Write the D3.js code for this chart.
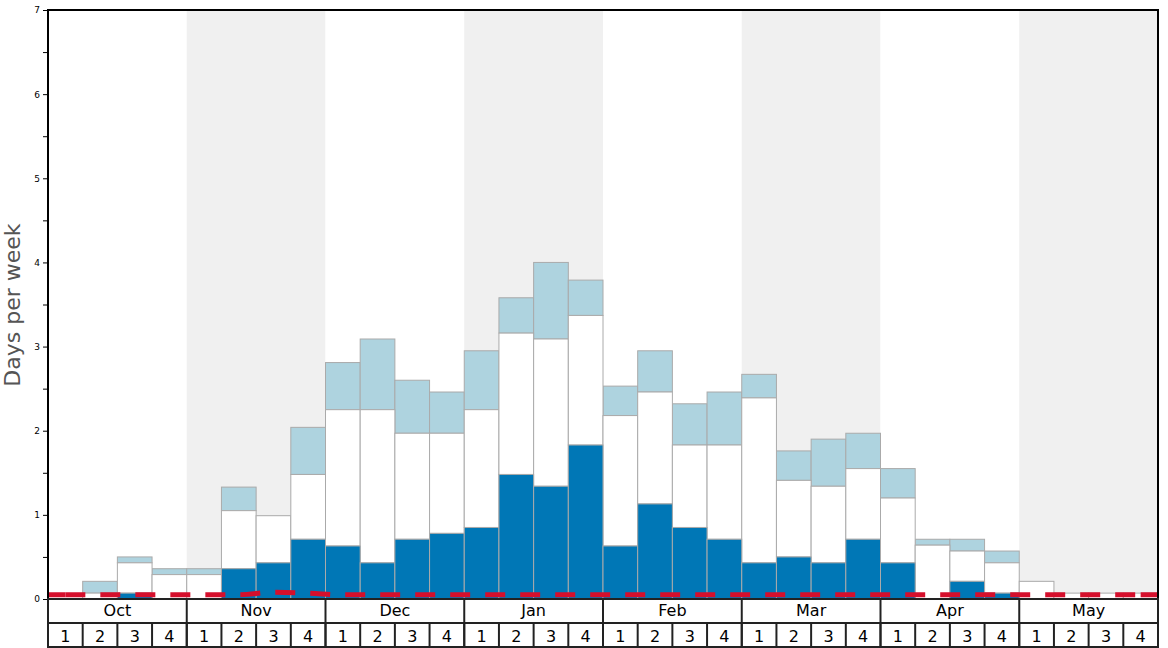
<!DOCTYPE html><html><head><meta charset="utf-8"><script src="https://cdn.jsdelivr.net/npm/d3@7"></script>
<style>body{margin:0;background:#fff}text{font-family:"DejaVu Sans",sans-serif}</style></head><body><svg id="c" width="1168" height="648"></svg>
<script>
const months=["Oct","Nov","Dec","Jan","Feb","Mar","Apr","May"];
const weekLabels=["1","2","3","4"];
const darkTop=[0,0,0.07,0,0,0.36,0.43,0.71,0.63,0.43,0.71,0.78,0.85,1.48,1.34,1.83,0.63,1.13,0.85,0.71,0.43,0.5,0.43,0.71,0.43,0,0.21,0.07,0,0,0,0];
const whiteTop=[0,0.07,0.43,0.29,0.29,1.05,0.99,1.48,2.25,2.25,1.97,1.97,2.25,3.16,3.09,3.37,2.18,2.46,1.83,1.83,2.39,1.41,1.34,1.55,1.2,0.64,0.57,0.43,0.21,0.07,0.07,0.07];
const lightTop=[0,0.21,0.5,0.36,0.36,1.33,0.99,2.04,2.81,3.09,2.6,2.46,2.95,3.58,4.0,3.79,2.53,2.95,2.32,2.46,2.67,1.76,1.9,1.97,1.55,0.71,0.71,0.57,0.21,0.07,0.07,0.07];
const redLine=[0.05,0.05,0.05,0.05,0.05,0.05,0.08,0.07,0.05,0.05,0.05,0.05,0.05,0.05,0.05,0.05,0.05,0.05,0.05,0.05,0.05,0.05,0.05,0.05,0.05,0.05,0.05,0.05,0.05,0.05,0.05,0.05];
const yTicks=[0,1,2,3,4,5,6,7];
const svg=d3.select("#c");
const L=48,R=1158,T=10,B=599;
const x=d3.scaleLinear().domain([0,32]).range([L,R]);
const y=d3.scaleLinear().domain([0,7]).range([B,T]);
const idx=d3.range(32);
svg.selectAll(".sh").data(months).enter().append("rect").attr("x",(d,i)=>x(i*4)).attr("width",x(4)-x(0)).attr("y",T).attr("height",B-T).attr("fill",(d,i)=>i%2?"#f0f0f0":"#fff");
function layer(top,bot,fill){svg.append("g").selectAll("rect").data(idx.filter(i=>top[i]-bot(i)>0)).enter().append("rect")
 .attr("x",i=>x(i)).attr("width",x(1)-x(0)).attr("y",i=>y(top[i])).attr("height",i=>y(bot(i))-y(top[i])).attr("fill",fill).attr("stroke","#aaa").attr("stroke-width",1);}
layer(lightTop,i=>whiteTop[i],"#aed3df");
layer(whiteTop,i=>darkTop[i],"#fff");
layer(darkTop,i=>0,"#0077b6");
svg.append("path").datum(idx).attr("d",d3.line().x(i=>x(i+0.5)).y(i=>y(redLine[i])).curve(d3.curveMonotoneX)).attr("fill","none").attr("stroke","#d50f2c").attr("stroke-width",5).attr("stroke-dasharray","20,15");
svg.append("path").attr("d",`M${x(0)},${y(redLine[0])}H${x(0.5)}M${x(31.5)},${y(0.05)}H${x(32)}`).attr("stroke","#d50f2c").attr("stroke-width",5);
const ya=d3.axisLeft(y).tickValues(d3.range(0,7.01,0.5)).tickSize(5).tickFormat(d=>Number.isInteger(d)?d:"");
svg.append("g").attr("transform",`translate(${L},0)`).call(ya).call(g=>g.select(".domain").remove()).selectAll("text").attr("font-size",9).attr("fill","#000");
svg.append("rect").attr("x",L).attr("y",T).attr("width",R-L).attr("height",B-T).attr("fill","none").attr("stroke","#000").attr("stroke-width",2);
const ax=svg.append("g");
ax.append("rect").attr("x",L).attr("y",B).attr("width",R-L).attr("height",647-B).attr("fill","#fff").attr("stroke","#222").attr("stroke-width",2);
ax.append("line").attr("x1",L).attr("x2",R).attr("y1",623).attr("y2",623).attr("stroke","#222").attr("stroke-width",2);
months.forEach((m,i)=>{ax.append("line").attr("x1",x(i*4)).attr("x2",x(i*4)).attr("y1",B).attr("y2",647).attr("stroke","#222").attr("stroke-width",2);
 ax.append("text").attr("x",x(i*4+2)).attr("y",616).attr("text-anchor","middle").attr("font-size",16).text(m);});
idx.forEach(i=>{ax.append("line").attr("x1",x(i)).attr("x2",x(i)).attr("y1",623).attr("y2",647).attr("stroke","#222").attr("stroke-width",2);
 ax.append("text").attr("x",x(i+0.5)).attr("y",642).attr("text-anchor","middle").attr("font-size",16).text(weekLabels[i%4]);});
svg.append("text").attr("transform","translate(20,305) rotate(-90)").attr("text-anchor","middle").attr("font-size",22).attr("fill","#555").text("Days per week");
</script></body></html>
